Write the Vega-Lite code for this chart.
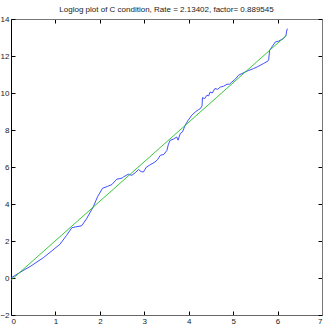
{
  "$schema": "https://vega.github.io/schema/vega-lite/v6.json",
  "autosize": "none",
  "padding": {"left": 11, "top": 19, "right": 5, "bottom": 12},
  "width": 311,
  "height": 296,
  "background": "white",
  "title": {"text": "Loglog plot of C condition, Rate = 2.13402, factor= 0.889545", "font": "Liberation Sans", "fontSize": 8, "fontWeight": "normal", "color": "#222", "offset": 1},
  "config": {
    "view": {"stroke": null},
    "axis": {"grid": false, "domainColor": "#000", "tickColor": "#000", "tickSize": -4, "labelFont": "Liberation Sans", "labelFontSize": 8, "labelColor": "#222", "title": null, "labelPadding": 6}
  },
  "datasets": {
    "data": [
      {"x":0,"y":0},{"x":0.2,"y":0.3},{"x":0.45,"y":0.65},{"x":0.73,"y":1.1},{"x":1.1,"y":1.82},{"x":1.25,"y":2.3},{"x":1.37,"y":2.72},{"x":1.45,"y":2.76},{"x":1.59,"y":2.82},{"x":1.7,"y":3.2},{"x":1.85,"y":3.84},{"x":1.95,"y":4.4},{"x":2.06,"y":4.85},{"x":2.17,"y":4.95},{"x":2.27,"y":5.05},{"x":2.38,"y":5.34},{"x":2.5,"y":5.4},{"x":2.53,"y":5.46},{"x":2.64,"y":5.61},{"x":2.72,"y":5.55},{"x":2.8,"y":5.7},{"x":2.87,"y":5.86},{"x":2.93,"y":5.75},{"x":2.98,"y":5.73},{"x":3.05,"y":6.0},{"x":3.12,"y":6.1},{"x":3.24,"y":6.27},{"x":3.3,"y":6.4},{"x":3.36,"y":6.63},{"x":3.44,"y":6.68},{"x":3.51,"y":6.9},{"x":3.54,"y":7.2},{"x":3.58,"y":7.44},{"x":3.65,"y":7.5},{"x":3.73,"y":7.62},{"x":3.76,"y":7.45},{"x":3.81,"y":7.81},{"x":3.86,"y":7.9},{"x":3.92,"y":8.25},{"x":3.98,"y":8.5},{"x":4.07,"y":8.8},{"x":4.15,"y":8.98},{"x":4.22,"y":9.1},{"x":4.26,"y":9.15},{"x":4.3,"y":9.3},{"x":4.31,"y":9.75},{"x":4.36,"y":9.7},{"x":4.41,"y":9.88},{"x":4.45,"y":9.85},{"x":4.48,"y":10.05},{"x":4.53,"y":10.0},{"x":4.59,"y":10.24},{"x":4.65,"y":10.2},{"x":4.71,"y":10.32},{"x":4.78,"y":10.36},{"x":4.86,"y":10.47},{"x":4.92,"y":10.48},{"x":4.97,"y":10.59},{"x":5.05,"y":10.75},{"x":5.12,"y":10.96},{"x":5.2,"y":11.05},{"x":5.27,"y":11.14},{"x":5.35,"y":11.22},{"x":5.46,"y":11.32},{"x":5.55,"y":11.42},{"x":5.68,"y":11.59},{"x":5.78,"y":11.72},{"x":5.8,"y":11.8},{"x":5.82,"y":12.3},{"x":5.86,"y":12.45},{"x":5.95,"y":12.76},{"x":6.02,"y":12.8},{"x":6.1,"y":12.9},{"x":6.13,"y":12.94},{"x":6.17,"y":13.05},{"x":6.19,"y":13.12},{"x":6.2,"y":13.3},{"x":6.22,"y":13.48}
    ],
    "fit": [{"x":0,"y":-0.117},{"x":6.2,"y":13.114}]
  },
  "layer": [
    {
      "data": {"name": "data"},
      "mark": {"type": "line", "color": "#2a3cff", "strokeWidth": 0.9, "clip": true},
      "encoding": {
        "x": {"field": "x", "type": "quantitative", "scale": {"domain": [0, 7], "nice": false, "zero": false}, "axis": {"values": [0,1,2,3,4,5,6,7], "orient": "bottom", "domainColor": "#666"}},
        "y": {"field": "y", "type": "quantitative", "scale": {"domain": [-2, 14], "nice": false, "zero": false}, "axis": {"values": [-2,0,2,4,6,8,10,12,14], "orient": "left"}}
      }
    },
    {
      "data": {"name": "fit"},
      "mark": {"type": "line", "color": "#22c022", "strokeWidth": 0.9, "clip": true},
      "encoding": {
        "x": {"field": "x", "type": "quantitative", "axis": {"values": [0,1,2,3,4,5,6,7], "orient": "top", "labels": false, "domainColor": "#777", "minExtent": 0, "maxExtent": 0, "labelPadding": 0}},
        "y": {"field": "y", "type": "quantitative", "axis": {"values": [-2,0,2,4,6,8,10,12,14], "orient": "right", "labels": false, "domainColor": "#777", "minExtent": 0, "maxExtent": 0, "labelPadding": 0}}
      }
    }
  ],
  "resolve": {"axis": {"x": "independent", "y": "independent"}}
}
